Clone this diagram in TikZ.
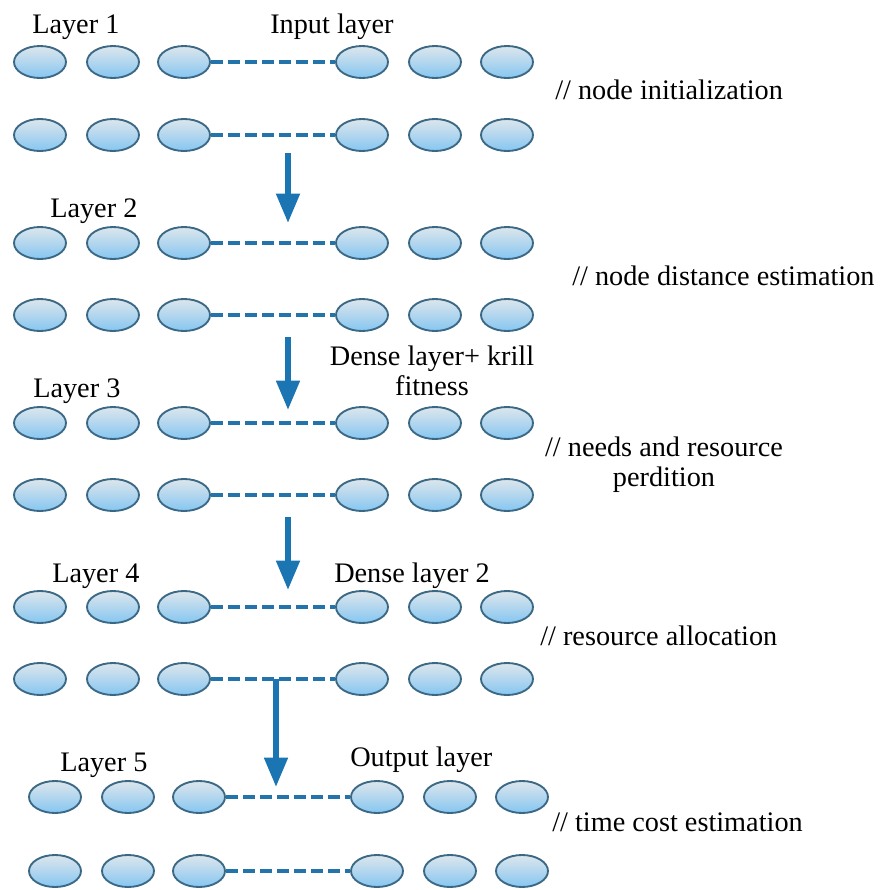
\documentclass[tikz,border=0pt]{standalone}
\usepackage{fontspec}
\setmainfont{Liberation Serif}
\usetikzlibrary{shapes.geometric,arrows.meta}

\definecolor{cellTop}{HTML}{DDE6EC}
\definecolor{cellBot}{HTML}{86C6F1}
\definecolor{cellEdge}{HTML}{3A6885}
\definecolor{linkBlue}{HTML}{2374AA}
\definecolor{flowBlue}{HTML}{1B75B3}

\tikzset{
  cell/.style={ellipse, draw=cellEdge, line width=1.4pt, top color=cellTop, bottom color=cellBot,
    minimum width=39pt, minimum height=24pt, inner sep=0pt},
  linkdash/.style={draw=linkBlue, line width=3.7pt, dash pattern=on 9pt off 3.8pt},
  flow/.style={draw=flowBlue, line width=4.3pt, -{Triangle[length=22pt,width=17pt]}},
  lbl/.style={inner sep=0pt, font=\fontsize{21.2}{22.5}\selectfont}
}

\begin{document}
\begin{tikzpicture}[x=0.75pt,y=0.75pt,yscale=-1,xscale=1]
\useasboundingbox (0,0) rectangle (882,890);

%Shape: Ellipse rows
\foreach \r/\y/\dx in {1/62/0, 2/135/0, 3/243/0, 4/315/0, 5/423/0, 6/495/0, 7/607/0, 8/679/0, 9/797/15, 10/871/15}{
  \foreach \c/\x in {1/40, 2/113, 3/184, 4/362, 5/435, 6/507}
    \node[cell] (r\r-\c) at (\x+\dx,\y) {};
  \draw[linkdash] (r\r-3) -- (r\r-4);
}

%Shape: Arrows
\coordinate (a1s) at (288,153); \coordinate (a1e) at (288,223);
\coordinate (a2s) at (288,337); \coordinate (a2e) at (288,410);
\coordinate (a3s) at (288,517); \coordinate (a3e) at (288,590);
\coordinate (a4s) at (276,679); \coordinate (a4e) at (276,787);
\draw[flow] (a1s) -- (a1e);
\draw[flow] (a2s) -- (a2e);
\draw[flow] (a3s) -- (a3e);
\draw[flow] (a4s) -- (a4e);

% Text Node
\node[lbl, anchor=base west] (lay1) at (32,33) {Layer 1};
% Text Node
\node[lbl, anchor=base west] (inlay) at (270,33) {Input layer};
% Text Node
\node[lbl, anchor=base west] (cm1) at (555,99) {// node initialization};
% Text Node
\node[lbl, anchor=base west] (lay2) at (50,217) {Layer 2};
% Text Node
\node[lbl, anchor=base west] (cm2) at (572,285) {// node distance estimation};
% Text Node
\node[lbl, anchor=base, align=center] (dense1) at (432,395) {Dense layer+ krill\\fitness};
% Text Node
\node[lbl, anchor=base west] (lay3) at (33,397) {Layer 3};
% Text Node
\node[lbl, anchor=base, align=center] (cm3) at (664,486) {// needs and resource\\perdition};
% Text Node
\node[lbl, anchor=base west] (lay4) at (52,582) {Layer 4};
% Text Node
\node[lbl, anchor=base west] (dense2) at (334,582) {Dense layer 2};
% Text Node
\node[lbl, anchor=base west] (cm4) at (540,645) {// resource allocation};
% Text Node
\node[lbl, anchor=base west] (lay5) at (60,771) {Layer 5};
% Text Node
\node[lbl, anchor=base west] (outlay) at (350,766) {Output layer};
% Text Node
\node[lbl, anchor=base west] (cm5) at (552,831) {// time cost estimation};

\end{tikzpicture}
\end{document}
